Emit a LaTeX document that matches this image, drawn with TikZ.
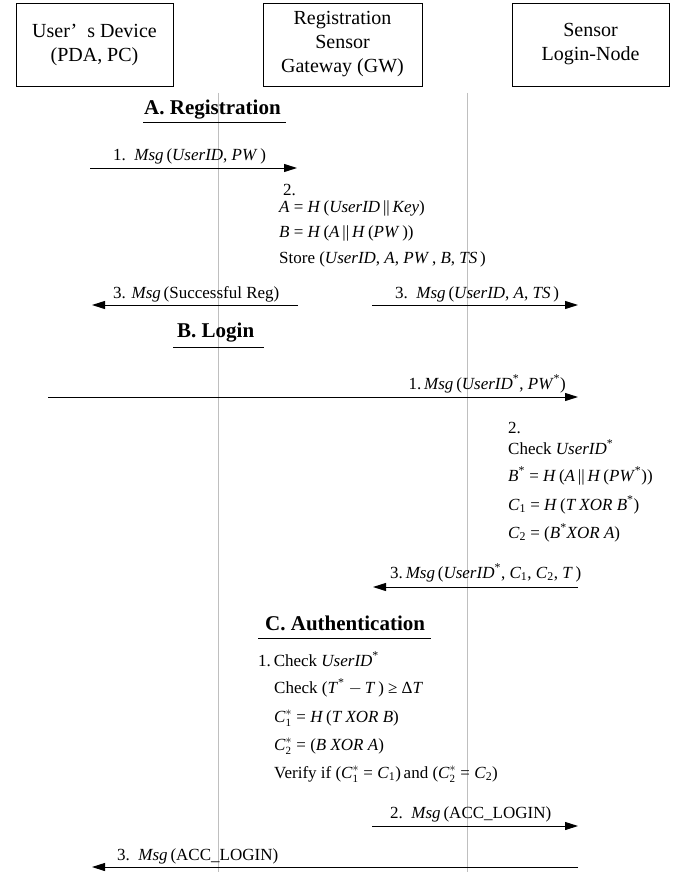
\documentclass[tikz,border=0pt]{standalone}
\usepackage{fontspec}
\setmainfont{Liberation Serif}
\usetikzlibrary{arrows.meta}
\newcommand\vi[1]{\textit{#1}}
\newcommand\sst{\textsuperscript{*}}
\newcommand\ssb[1]{\textsubscript{#1}}
\newcommand\Cs[1]{\vi{C}\ensuremath{{}^{*}_{\mbox{\fontsize{11}{11}\selectfont #1}}}}
\newcommand\Cn[1]{\vi{C}\ssb{1}}
\begin{document}
\begin{tikzpicture}[x=1pt,y=-1pt,
  box/.style={draw, line width=0.8pt, minimum height=83pt, align=center, font=\fontsize{20}{24}\selectfont, inner sep=0pt},
  life/.style={draw=black!25, line width=0.9pt},
  msg/.style={-{Triangle[length=13pt,width=8pt]}, line width=1pt},
  lbl/.style={anchor=base west, inner sep=0pt, font=\fontsize{17}{20}\selectfont},
  lble/.style={anchor=base east, inner sep=0pt, font=\fontsize{17}{20}\selectfont},
  ttl/.style={anchor=base west, inner sep=0pt, font=\fontsize{21}{24}\selectfont\bfseries},
  uline/.style={line width=1pt}
]
\useasboundingbox (0,0) rectangle (697,872);
\fill[white] (0,0) rectangle (697,872);

% participant boxes
\node[box, minimum width=157pt] (dev) at (94.5,44.5) {User’\hspace{0.5em}s Device\\(PDA, PC)};
\node[box, minimum width=159pt] (gw) at (342.5,44.5) {Registration\\Sensor\\Gateway (GW)};
\node[box, minimum width=157pt] (sn) at (590.5,44.5) {Sensor\\Login-Node};

% lifelines
\coordinate (l1t) at (218,93); \coordinate (l1b) at (218,872);
\coordinate (l2t) at (467,93); \coordinate (l2b) at (467,872);
\draw[life] (l1t) -- (l1b);
\draw[life] (l2t) -- (l2b);

% ---------- A. Registration
\node[ttl] (ta) at (144,115) {A. Registration};
\coordinate (ua1) at (143,123); \coordinate (ua2) at (286,123);
\draw[uline] (ua1) -- (ua2);

\coordinate (r1s) at (90,168); \coordinate (r1e) at (297,168);
\draw[msg] (r1s) -- (r1e);
\node[lbl] (r1l) at (113,160) {1.~~\vi{Msg}\,(\vi{UserID}, \vi{PW}\,)};

\node[lbl] (r2n) at (283,195) {2.};
\node[lbl] (r2a) at (279,212) {\vi{A} = \vi{H}\,(\vi{UserID}\,||\,\vi{Key})};
\node[lbl] (r2b) at (279,237) {\vi{B} = \vi{H}\,(\vi{A}\,||\,\vi{H}\,(\vi{PW}\,))};
\node[lbl] (r2c) at (279,263) {Store (\vi{UserID}, \vi{A}, \vi{PW}\,, \vi{B}, \vi{TS}\,)};

\coordinate (r3s) at (298,305); \coordinate (r3e) at (92,305);
\draw[msg] (r3s) -- (r3e);
\node[lbl] (r3l) at (113,298) {3. \vi{Msg}\,(Successful Reg)};

\coordinate (r4s) at (372,305); \coordinate (r4e) at (578,305);
\draw[msg] (r4s) -- (r4e);
\node[lbl] (r4l) at (395,298) {3.~~\vi{Msg}\,(\vi{UserID}, \vi{A}, \vi{TS}\,)};

% ---------- B. Login
\node[ttl] (tb) at (177,337) {B. Login};
\coordinate (ub1) at (173,347); \coordinate (ub2) at (264,347);
\draw[uline] (ub1) -- (ub2);

\coordinate (g1s) at (48,397); \coordinate (g1e) at (578,397);
\draw[msg] (g1s) -- (g1e);
\node[lble] (g1l) at (566,389) {1.\,\vi{Msg}\,(\vi{UserID}\sst, \vi{PW}\sst)};

\node[lbl] (g2n) at (508,433) {2.};
\node[lbl] (g2a) at (508,454) {Check \vi{UserID}\sst};
\node[lbl] (g2b) at (508,481) {\vi{B}\sst\ = \vi{H}\,(\vi{A}\,||\,\vi{H}\,(\vi{PW}\sst))};
\node[lbl] (g2c) at (508,510) {\vi{C}\ssb{1} = \vi{H}\,(\vi{T XOR B}\sst)};
\node[lbl] (g2d) at (508,538) {\vi{C}\ssb{2} = (\vi{B}\sst\vi{XOR A})};

\coordinate (g3s) at (578,587); \coordinate (g3e) at (373,587);
\draw[msg] (g3s) -- (g3e);
\node[lbl] (g3l) at (390,578) {3.\,\vi{Msg}\,(\vi{UserID}\sst, \vi{C}\ssb{1}, \vi{C}\ssb{2}, \vi{T}\,)};

% ---------- C. Authentication
\node[ttl] (tc) at (265,630) {C. Authentication};
\coordinate (uc1) at (258,638); \coordinate (uc2) at (431,638);
\draw[uline] (uc1) -- (uc2);

\node[lbl] (c1a) at (258,666) {1.\,Check \vi{UserID}\sst};
\node[lbl] (c1b) at (274,693) {Check (\vi{T}\sst\ $-$\,\vi{T}\,) ≥ Δ\vi{T}};
\node[lbl] (c1c) at (274,722) {\Cs{1} = \vi{H}\,(\vi{T XOR B})};
\node[lbl] (c1d) at (274,750) {\Cs{2} = (\vi{B XOR A})};
\node[lbl] (c1e) at (274,778) {Verify if (\Cs{1} = \vi{C}\ssb{1})\,and (\Cs{2} = \vi{C}\ssb{2})};

\coordinate (c2s) at (372,826); \coordinate (c2e) at (578,826);
\draw[msg] (c2s) -- (c2e);
\node[lbl] (c2l) at (390,818) {2.~~\vi{Msg}\,(ACC\_LOGIN)};

\coordinate (c3s) at (578,867); \coordinate (c3e) at (92,867);
\draw[msg] (c3s) -- (c3e);
\node[lbl] (c3l) at (117,860) {3.~~\vi{Msg}\,(ACC\_LOGIN)};
\end{tikzpicture}
\end{document}
